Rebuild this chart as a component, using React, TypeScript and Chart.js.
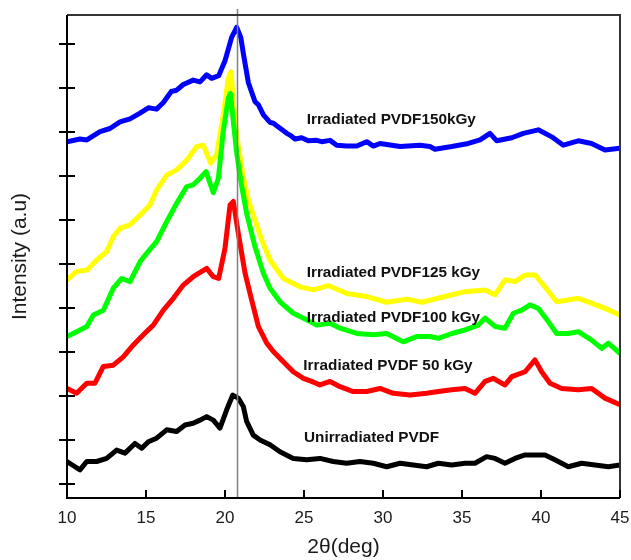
import React, { useEffect, useRef } from 'react';
import { Chart, registerables } from 'chart.js';

Chart.register(...registerables);

// ---- axes ----
const X_MIN = 10;
const X_MAX = 45;
const X_TICKS = [10, 15, 20, 25, 30, 35, 40, 45];
const Y_MIN = -0.32;
const Y_MAX = 10.66;
const Y_TICKS = [0, 1, 2, 3, 4, 5, 6, 7, 8, 9, 10];
const X_TITLE = '2θ(deg)';
const Y_TITLE = 'Intensity (a.u)';
const REF_LINE_THETA = 20.74;

// ---- Irradiated PVDF 150 kGy (blue) ----
const THETA_150 = [10, 10.82, 11.25, 12.09, 12.72, 13.35, 13.99, 14.62, 15.15, 15.67, 16.1, 16.6, 16.94, 17.36, 17.99, 18.42, 18.84, 19.16, 19.6, 20.0, 20.42, 20.74, 21.0, 21.16, 21.48, 21.9, 22.11, 22.43, 22.85, 23.06, 23.91, 24.11, 24.43, 24.85, 25.27, 25.8, 26.12, 26.65, 27.07, 27.7, 28.34, 28.97, 29.39, 29.81, 31.08, 32.34, 32.97, 33.29, 34.35, 35.4, 36.14, 36.77, 37.2, 38.15, 38.88, 39.83, 40.68, 41.41, 42.36, 43.2, 44.05, 45];
const INT_150 = [7.78, 7.84, 7.82, 8.01, 8.08, 8.23, 8.30, 8.43, 8.55, 8.52, 8.67, 8.92, 8.95, 9.08, 9.18, 9.14, 9.30, 9.22, 9.28, 9.62, 10.15, 10.38, 10.15, 9.79, 9.12, 8.69, 8.62, 8.39, 8.22, 8.20, 7.97, 7.93, 7.84, 7.87, 7.80, 7.81, 7.78, 7.81, 7.70, 7.68, 7.68, 7.78, 7.68, 7.74, 7.67, 7.70, 7.67, 7.61, 7.67, 7.74, 7.82, 7.97, 7.80, 7.87, 7.97, 8.05, 7.89, 7.70, 7.80, 7.74, 7.59, 7.63];

// ---- Irradiated PVDF 125 kGy (yellow) ----
const THETA_125 = [10, 10.61, 11.25, 11.88, 12.51, 12.93, 13.35, 13.99, 14.62, 15.25, 15.67, 16.31, 16.94, 17.58, 18.21, 18.63, 19.1, 19.47, 19.89, 20.21, 20.38, 20.63, 20.84, 21.16, 21.48, 21.9, 22.32, 22.85, 23.69, 24.75, 25.59, 26.54, 27.7, 28.97, 30.23, 31.5, 32.45, 33.92, 35.19, 36.46, 37.09, 37.72, 38.35, 38.99, 39.62, 40.25, 40.99, 41.73, 42.36, 43.2, 44.05, 45];
const INT_125 = [4.64, 4.83, 4.86, 5.09, 5.28, 5.62, 5.81, 5.89, 6.11, 6.34, 6.68, 7.02, 7.14, 7.36, 7.67, 7.70, 7.29, 7.48, 8.39, 9.22, 9.37, 8.27, 7.67, 6.98, 6.45, 6.0, 5.55, 5.09, 4.67, 4.48, 4.41, 4.51, 4.33, 4.26, 4.13, 4.20, 4.13, 4.26, 4.37, 4.41, 4.30, 4.64, 4.60, 4.75, 4.75, 4.48, 4.14, 4.18, 4.22, 4.11, 3.99, 3.84];

// ---- Irradiated PVDF 100 kGy (green) ----
const THETA_100 = [10, 10.61, 11.25, 11.67, 12.3, 12.93, 13.46, 13.99, 14.62, 15.04, 15.67, 16.31, 16.94, 17.58, 17.99, 18.42, 18.8, 19.26, 19.58, 19.89, 20.21, 20.34, 20.74, 21.06, 21.37, 21.9, 22.43, 22.85, 23.48, 24.32, 25.17, 25.8, 26.65, 27.28, 28.34, 29.39, 30.23, 31.28, 32.13, 32.97, 33.5, 34.35, 35.19, 36.03, 36.46, 37.09, 37.72, 38.25, 38.78, 39.3, 39.83, 40.46, 40.99, 41.73, 42.36, 43.2, 43.84, 44.26, 45];
const INT_100 = [3.35, 3.46, 3.58, 3.84, 3.95, 4.45, 4.67, 4.60, 5.05, 5.24, 5.51, 5.96, 6.38, 6.76, 6.80, 6.95, 7.10, 6.62, 6.95, 8.01, 8.77, 8.88, 7.52, 6.76, 6.15, 5.39, 4.79, 4.45, 4.14, 3.88, 3.73, 3.61, 3.65, 3.54, 3.42, 3.39, 3.42, 3.23, 3.35, 3.35, 3.31, 3.42, 3.50, 3.61, 3.77, 3.58, 3.54, 3.88, 3.95, 4.07, 3.99, 3.69, 3.42, 3.42, 3.46, 3.27, 3.08, 3.20, 2.97];

// ---- Irradiated PVDF 50 kGy (red) ----
const THETA_50 = [10, 10.61, 11.25, 11.77, 12.3, 12.93, 13.56, 14.2, 14.83, 15.46, 16.1, 16.73, 17.36, 17.99, 18.84, 19.26, 19.6, 20.0, 20.32, 20.53, 20.84, 21.27, 21.69, 22.11, 22.64, 23.06, 23.69, 24.32, 24.96, 25.48, 26.01, 26.65, 27.28, 28.12, 28.97, 29.81, 30.65, 31.71, 32.76, 33.5, 34.35, 35.19, 35.82, 36.46, 36.98, 37.72, 38.15, 38.99, 39.62, 40.04, 40.57, 41.31, 42.36, 43.2, 44.05, 45];
const INT_50 = [2.17, 2.06, 2.29, 2.29, 2.67, 2.70, 2.89, 3.16, 3.39, 3.61, 3.95, 4.22, 4.52, 4.71, 4.90, 4.71, 4.67, 5.36, 6.34, 6.42, 5.70, 4.79, 4.18, 3.58, 3.20, 3.01, 2.78, 2.55, 2.40, 2.33, 2.25, 2.33, 2.21, 2.10, 2.10, 2.17, 2.06, 2.02, 2.06, 2.10, 2.14, 2.17, 2.06, 2.33, 2.40, 2.25, 2.44, 2.55, 2.82, 2.55, 2.29, 2.17, 2.14, 2.17, 1.95, 1.80];

// ---- Unirradiated PVDF (black) ----
const THETA_0 = [10, 10.51, 10.82, 11.25, 11.88, 12.51, 13.14, 13.67, 14.3, 14.73, 15.15, 15.67, 16.31, 16.94, 17.47, 17.99, 18.42, 18.84, 19.26, 19.68, 20.1, 20.49, 20.84, 21.16, 21.37, 21.79, 22.22, 22.85, 23.48, 24.32, 25.17, 26.01, 26.85, 27.7, 28.54, 29.39, 30.23, 31.08, 31.92, 32.76, 33.5, 34.35, 35.19, 35.82, 36.56, 37.09, 37.72, 38.35, 38.99, 39.62, 40.25, 40.88, 41.73, 42.57, 43.42, 44.26, 45];
const INT_0 = [0.51, 0.39, 0.32, 0.51, 0.51, 0.58, 0.77, 0.70, 0.92, 0.81, 0.96, 1.04, 1.23, 1.19, 1.34, 1.38, 1.45, 1.53, 1.45, 1.27, 1.68, 2.02, 1.95, 1.76, 1.42, 1.11, 1.00, 0.89, 0.73, 0.58, 0.55, 0.58, 0.51, 0.47, 0.51, 0.47, 0.39, 0.47, 0.43, 0.39, 0.47, 0.43, 0.47, 0.47, 0.62, 0.58, 0.47, 0.58, 0.66, 0.66, 0.66, 0.55, 0.39, 0.47, 0.43, 0.39, 0.43];

// ---- in-plot labels ----
const LABEL_TEXT = ['Irradiated PVDF150kGy', 'Irradiated PVDF125 kGy', 'Irradiated PVDF100 kGy', 'Irradiated PVDF 50 kGy', 'Unirradiated PVDF'];
const LABEL_THETA = [25.17, 25.17, 25.17, 24.96, 25.0];
const LABEL_INT = [8.27, 4.81, 3.78, 2.68, 1.05];

const FONT = '"Liberation Sans", Arial, Helvetica, sans-serif';

function zip(xs: number[], ys: number[]) {
  const n = Math.min(xs.length, ys.length);
  const out: { x: number; y: number }[] = [];
  for (let i = 0; i < n; i++) out.push({ x: xs[i], y: ys[i] });
  return out;
}

const decorPlugin = {
  id: 'decor',
  afterDatasetsDraw(chart: any) {
    const { ctx, chartArea: a, scales } = chart;
    const x = scales.x;
    const y = scales.y;
    ctx.save();
    // reference vertical line
    const rx = Math.round(x.getPixelForValue(REF_LINE_THETA)) + 0.5;
    ctx.strokeStyle = '#808080';
    ctx.lineWidth = 1.5;
    ctx.beginPath();
    ctx.moveTo(rx, a.top - 6);
    ctx.lineTo(rx, a.bottom);
    ctx.stroke();
    // labels
    ctx.font = 'bold 15.3px ' + FONT;
    ctx.fillStyle = '#111';
    ctx.textAlign = 'left';
    ctx.textBaseline = 'middle';
    LABEL_TEXT.forEach((t, i) => {
      ctx.fillText(t, x.getPixelForValue(LABEL_THETA[i]), y.getPixelForValue(LABEL_INT[i]));
    });
    // top & right frame
    ctx.strokeStyle = '#333';
    ctx.lineWidth = 2;
    ctx.beginPath();
    ctx.moveTo(a.left, a.top);
    ctx.lineTo(a.right, a.top);
    ctx.lineTo(a.right, a.bottom);
    ctx.stroke();
    // left & bottom axes
    ctx.strokeStyle = '#000';
    ctx.lineWidth = 2;
    ctx.beginPath();
    ctx.moveTo(a.left, a.top);
    ctx.lineTo(a.left, a.bottom);
    ctx.lineTo(a.right, a.bottom);
    ctx.stroke();
    // y ticks (crossing)
    ctx.beginPath();
    Y_TICKS.forEach((v) => {
      const py = y.getPixelForValue(v);
      ctx.moveTo(a.left - 8, py);
      ctx.lineTo(a.left + 8, py);
    });
    // x ticks (inside)
    X_TICKS.forEach((v) => {
      const px = x.getPixelForValue(v);
      ctx.moveTo(px, a.bottom);
      ctx.lineTo(px, a.bottom - 8);
    });
    ctx.stroke();
    ctx.restore();
  },
};

export default function App() {
  const ref = useRef<HTMLCanvasElement | null>(null);

  useEffect(() => {
    document.body.style.margin = '0';
    const canvas = ref.current;
    if (!canvas) return;
    const line = (data: { x: number; y: number }[], color: string) => ({
      data,
      borderColor: color,
      backgroundColor: color,
      borderWidth: 5,
      pointRadius: 0,
      tension: 0,
      borderJoinStyle: 'round' as const,
      borderCapStyle: 'round' as const,
      fill: false,
    });
    const chart = new Chart(canvas, {
      type: 'line',
      data: {
        datasets: [
          line(zip(THETA_100, INT_100), '#00ff00'),
          line(zip(THETA_125, INT_125), '#ffff00'),
          line(zip(THETA_150, INT_150), '#0000ff'),
          line(zip(THETA_50, INT_50), '#ff0000'),
          line(zip(THETA_0, INT_0), '#000000'),
        ],
      },
      options: {
        animation: false,
        responsive: false,
        devicePixelRatio: 1,
        layout: { padding: { left: 0, right: 11, top: 15, bottom: 0 } },
        plugins: { legend: { display: false }, tooltip: { enabled: false } },
        scales: {
          x: {
            type: 'linear',
            min: X_MIN,
            max: X_MAX,
            afterFit: (s: any) => {
              s.height = 62;
              s.paddingLeft = 0;
              s.paddingRight = 0;
            },
            afterBuildTicks: (s: any) => {
              s.ticks = X_TICKS.map((v) => ({ value: v }));
            },
            grid: { display: false, drawTicks: false },
            border: { display: false },
            ticks: {
              color: '#1a1a1a',
              font: { family: FONT, size: 17 },
              padding: 10,
              maxRotation: 0,
              autoSkip: false,
            },
            title: {
              display: true,
              text: X_TITLE,
              color: '#1a1a1a',
              font: { family: FONT, size: 21 },
              padding: { top: 0, bottom: 0 },
            },
          },
          y: {
            type: 'linear',
            min: Y_MIN,
            max: Y_MAX,
            afterFit: (s: any) => {
              s.width = 67;
              s.paddingTop = 0;
              s.paddingBottom = 0;
            },
            afterBuildTicks: (s: any) => {
              s.ticks = Y_TICKS.map((v) => ({ value: v }));
            },
            grid: { display: false, drawTicks: false },
            border: { display: false },
            ticks: { display: false },
            title: {
              display: true,
              text: Y_TITLE,
              color: '#1a1a1a',
              font: { family: FONT, size: 21 },
              padding: { top: 8, bottom: 0 },
            },
          },
        },
      },
      plugins: [decorPlugin],
    });
    return () => chart.destroy();
  }, []);

  return (
    <div style={{ width: 631, height: 560 }}>
      <canvas ref={ref} width={631} height={560} style={{ display: 'block', width: 631, height: 560 }} />
    </div>
  );
}
